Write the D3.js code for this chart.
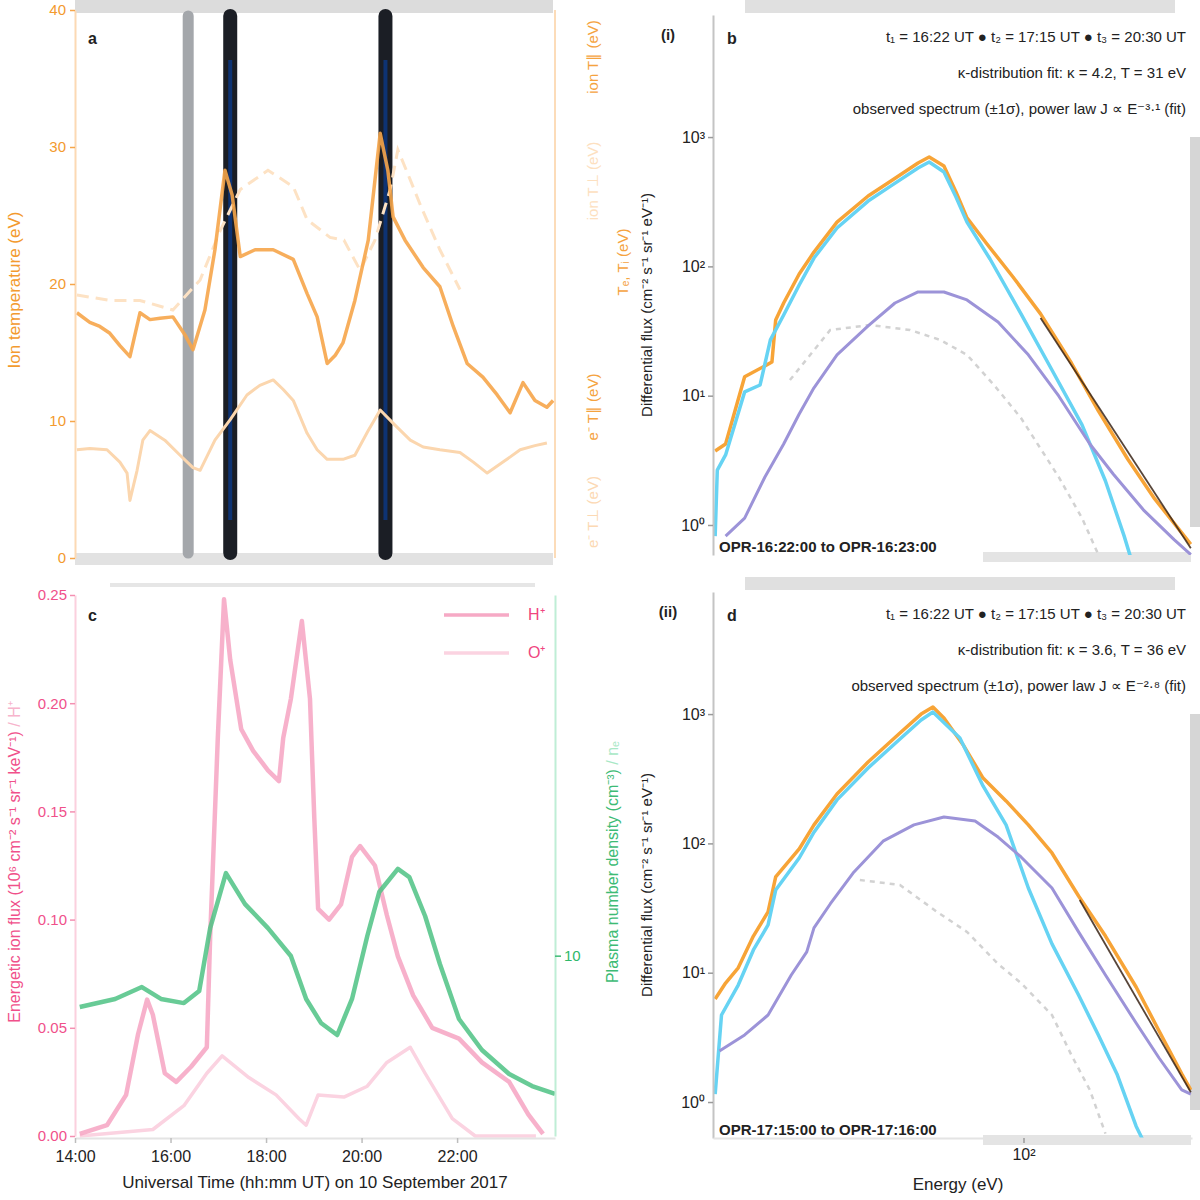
<!DOCTYPE html>
<html>
<head>
<meta charset="utf-8">
<script src="https://cdn.jsdelivr.net/npm/d3@7"></script>
<style>
body { margin: 0; background: #fff; }
</style>
</head>
<body>
<script>
// ---------- time axis (hours UT) ----------
var hourTicks = [14, 16, 18, 20, 22];
var hourLabels = ["14:00", "16:00", "18:00", "20:00", "22:00"];
var markerTimes = [16.37, 17.25, 20.5];
var markerColors = ["#a4a7ab", "#1b1e25", "#1b1e25"];

// ---------- panel a : temperatures ----------
var tempTicks = [0, 10, 20, 30, 40];
var tempIon = [[14.04,17.9],[14.31,17.2],[14.52,16.9],[14.73,16.4],[14.94,15.5],[15.15,14.7],[15.36,17.9],[15.57,17.4],
  [15.78,17.5],[16.05,17.6],[16.30,16.3],[16.47,15.2],[16.72,18.1],[16.93,22.5],[17.14,28.3],[17.29,26.5],[17.46,22.0],
  [17.77,22.5],[18.15,22.5],[18.57,21.8],[18.86,19.3],[19.07,17.6],[19.28,14.2],[19.45,14.8],[19.61,15.7],[19.86,18.8],
  [20.14,23.2],[20.39,31.0],[20.55,28.3],[20.66,24.9],[20.91,23.2],[21.29,21.2],[21.64,19.8],[21.92,16.9],[22.21,14.2],
  [22.54,13.2],[22.84,11.9],[23.11,10.6],[23.38,12.8],[23.63,11.5],[23.88,11.0],[24.01,11.5]];
var tempElec = [[14.04,7.9],[14.31,8.0],[14.67,7.9],[14.94,7.0],[15.09,6.2],[15.15,4.2],[15.30,6.4],[15.42,8.6],[15.57,9.3],
  [15.88,8.6],[16.20,7.5],[16.47,6.6],[16.62,6.4],[16.93,8.6],[17.25,10.1],[17.60,11.9],[17.87,12.6],[18.15,13.0],
  [18.36,12.3],[18.57,11.5],[18.86,9.1],[19.07,7.9],[19.28,7.2],[19.61,7.2],[19.86,7.5],[20.14,9.3],[20.39,10.8],
  [20.70,9.7],[21.02,8.6],[21.29,8.1],[21.64,7.9],[22.06,7.7],[22.34,7.0],[22.63,6.2],[22.96,7.0],[23.32,7.9],
  [23.63,8.2],[23.88,8.4]];
var tempPerp = [[14.04,19.2],[14.73,18.8],[15.36,18.8],[16.05,18.1],[16.62,20.3],[17.04,23.9],[17.46,26.9],[18.04,28.3],
  [18.57,27.1],[18.86,24.7],[19.34,23.4],[19.63,23.2],[19.97,21.0],[20.28,23.2],[20.60,26.9],[20.76,29.8],[21.02,27.6],
  [21.25,25.6],[21.64,22.5],[22.06,19.6]];

// ---------- panel c : fluxes and density ----------
var fluxTicks = [0, 0.05, 0.10, 0.15, 0.20, 0.25];
var densTicks = [10];
var fluxHigh = [[14.10,0.001],[14.67,0.005],[15.07,0.019],[15.32,0.047],[15.51,0.063],[15.63,0.056],[15.88,0.029],
  [16.12,0.025],[16.43,0.032],[16.76,0.041],[16.83,0.092],[16.99,0.184],[17.12,0.248],[17.25,0.220],[17.48,0.188],
  [17.73,0.178],[18.04,0.169],[18.27,0.164],[18.36,0.184],[18.52,0.202],[18.75,0.238],[18.92,0.202],[19.01,0.147],
  [19.09,0.105],[19.32,0.100],[19.57,0.107],[19.80,0.129],[19.97,0.134],[20.28,0.125],[20.53,0.102],[20.76,0.083],
  [21.08,0.065],[21.48,0.050],[22.04,0.045],[22.52,0.034],[23.09,0.025],[23.49,0.010],[23.80,0.001]];
var fluxLow = [[14.10,0.000],[15.63,0.003],[16.28,0.014],[16.76,0.029],[17.08,0.037],[17.64,0.027],[18.21,0.019],
  [18.69,0.008],[18.84,0.005],[19.09,0.019],[19.63,0.018],[20.12,0.023],[20.53,0.034],[21.02,0.041],[21.33,0.029],
  [21.90,0.008],[22.38,0.000],[23.65,0.000]];
var density = [[14.10,7.15],[14.84,7.60],[15.40,8.26],[15.80,7.60],[16.28,7.37],[16.60,8.04],[16.83,11.53],[17.16,14.58],
  [17.56,12.86],[18.04,11.53],[18.52,9.98],[18.84,7.60],[19.15,6.27],[19.49,5.60],[19.80,7.60],[20.12,11.09],
  [20.37,13.53],[20.76,14.81],[21.00,14.36],[21.33,12.20],[21.64,9.54],[22.04,6.49],[22.52,4.77],[23.09,3.44],
  [23.57,2.77],[24.05,2.33]];
var fluxLegend = ["H⁺", "O⁺"];

// ---------- panels b, d : energy spectra ----------
var energyTicks = [100];
var psdTicks = [1, 10, 100, 1000];
var obsB = [[15.2,3.73],[16.2,4.23],[18.2,14.0],[20.6,17.0],[21.5,18.2],[22.0,38.5],[23.1,52.1],[25.4,87.3],[27.8,129],
  [32.0,220],[38.7,350],[44.5,457],[52.5,631],[56.2,702],[61.5,598],[66.2,376],[70.8,237],[80.0,149],[93.8,82.8],
  [111,42.9],[134,17.9],[158,7.62],[189,3.24],[223,1.59],[263,0.87],[278,0.71]];
var kappaB = [[15.2,0.82],[15.4,2.66],[16.2,3.48],[18.2,10.7],[20.0,12.1],[21.3,27.0],[23.1,42.1],[25.4,71.8],[27.8,116],
  [32.0,198],[38.7,320],[44.5,419],[52.5,577],[56.2,642],[61.5,537],[66.2,344],[70.8,220],[81.5,114],[98.5,42.9],
  [119,15.8],[143,5.94],[165,2.19],[185,0.82],[194,0.52]];
var maxwB = [[16.2,0.82],[18.2,1.13],[20.6,2.35],[23.1,4.23],[25.4,7.21],[27.8,11.5],[32.0,20.7],[38.7,34.6],[45.6,52.1],
  [52.5,63.4],[61.5,63.4],[70.8,55.0],[85.6,37.2],[103,20.7],[124,9.95],[150,4.23],[173,2.48],[208,1.31],[251,0.77],
  [278,0.59]];
var refB = [[24.0,13.2],[30.7,32.2],[39.1,35.2],[50.0,32.2],[60.1,27.0],[70.8,20.7],[83.5,12.1],[98.5,6.72],[124,2.35],
  [143,1.13],[158,0.59]];
var powB = [[111,39.9],[278,0.66]];

var obsD = [[15.2,6.26],[16.2,8.32],[17.5,10.9],[19.2,19.2],[21.0,29.5],[22.0,55.0],[25.4,90.5],[27.8,139],[32.0,241],
  [38.7,426],[46.7,702],[53.5,1000],[57.5,1135],[61.5,933],[69.5,566],[78.1,320],[89.9,213],[103,139],[119,84.3],
  [140,39.2],[165,19.2],[199,7.75],[229,3.54],[263,1.65],[278,1.24]];
var kappaD = [[15.2,1.15],[15.8,4.71],[17.5,8.03],[19.2,15.0],[21.0,23.4],[22.0,43.6],[25.4,77.1],[27.8,122],[32.0,217],
  [38.7,383],[46.7,631],[53.5,900],[57.5,1038],[67.8,653],[78.1,278],[89.9,139],[103,45.2],[119,16.7],[140,6.72],
  [158,3.30],[177,1.65],[199,0.65],[208,0.50]];
var maxwD = [[15.6,2.48],[18.2,3.30],[21.0,4.71],[24.2,9.60],[26.6,14.5],[27.8,22.2],[30.7,34.0],[35.3,59.0],[42.4,104],
  [51.2,139],[61.5,160],[74.4,149],[85.6,112],[98.5,78.5],[119,45.2],[140,20.7],[165,9.60],[199,4.08],[229,2.19],
  [263,1.24],[278,1.15]];
var refD = [[36.8,52.1],[47.0,47.7],[59.0,29.5],[70.8,20.7],[85.6,11.7],[98.5,8.32],[119,4.71],[134,2.31],[150,1.24],
  [165,0.57]];
var powD = [[141,36.5],[278,1.19]];

var legendB = ["t₁ = 16:22 UT ●  t₂ = 17:15 UT ●  t₃ = 20:30 UT", "κ-distribution fit: κ = 4.2, T = 31 eV",
  "observed spectrum (±1σ), power law J ∝ E⁻³·¹ (fit)"];
var legendD = ["t₁ = 16:22 UT ●  t₂ = 17:15 UT ●  t₃ = 20:30 UT", "κ-distribution fit: κ = 3.6, T = 36 eV",
  "observed spectrum (±1σ), power law J ∝ E⁻²·⁸ (fit)"];
var intervalB = "OPR-16:22:00 to OPR-16:23:00";
var intervalD = "OPR-17:15:00 to OPR-17:16:00";

var FONT = '"Liberation Sans", Arial, sans-serif';
var SUP = {"0": "⁰", "1": "¹", "2": "²", "3": "³", "4": "⁴"};

function initialize() {
	var svg = d3.select("body").append("svg")
		.attr("width", 1200)
		.attr("height", 1200)
		.style("font-family", FONT);

	var defs = svg.append("defs");
	function clip(id, x, y, w, h) {
		defs.append("clipPath").attr("id", id)
			.append("rect").attr("x", x).attr("y", y).attr("width", w).attr("height", h);
	}
	clip("clipA", 75, 10, 480, 548);
	clip("clipC", 75, 590, 480, 548);
	clip("clipB", 713, 15, 479, 540);
	clip("clipD", 713, 592, 479, 546);

	var xT = d3.scaleLinear().domain([14, 24.05]).range([75, 555]);

	drawPanelA(svg, xT);
	drawPanelC(svg, xT);
	drawSpectra(svg, "clipB", 15, 555, [0.586, 8790], obsB, kappaB, maxwB, refB, powB, legendB, intervalB, "b", "(i)", false);
	drawSpectra(svg, "clipD", 592, 1138, [0.527, 8790], obsD, kappaD, maxwD, refD, powD, legendD, intervalD, "d", "(ii)", true);
} // initialize()

function styleAxis(g, domainColor, tickColor, textColor, size) {
	g.select(".domain").attr("stroke", domainColor).attr("stroke-width", 2);
	g.selectAll(".tick line").attr("stroke", tickColor).attr("stroke-width", 1.5);
	g.selectAll(".tick text").attr("fill", textColor)
		.style("font-size", size + "px").style("font-family", FONT);
}

function rotLabel(svg, x, y, parts, size) {
	var t = svg.append("text")
		.attr("transform", "translate(" + x + "," + y + ") rotate(-90)")
		.attr("text-anchor", "middle")
		.style("font-size", size + "px");
	parts.forEach(function(p) {
		t.append("tspan").attr("fill", p[1]).text(p[0]);
	});
	return t;
}

function drawPanelA(svg, xT) {
	var yA = d3.scaleLinear().domain([0, 40]).range([558, 10]);

	// light grey frame bands (top and bottom)
	svg.append("rect").attr("x", 75).attr("y", 0).attr("width", 478).attr("height", 13).attr("fill", "#dcdcdc");
	svg.append("rect").attr("x", 75).attr("y", 553).attr("width", 478).attr("height", 12).attr("fill", "#e2e2e2");

	// time markers of the spectra
	svg.selectAll(".marker").data(markerTimes).enter()
		.append("line")
		.attr("x1", function(d) { return xT(d); })
		.attr("x2", function(d) { return xT(d); })
		.attr("y1", 16).attr("y2", 553)
		.attr("stroke", function(d, i) { return markerColors[i]; })
		.attr("stroke-width", function(d, i) { return i === 0 ? 11 : 14; })
		.attr("stroke-linecap", "round");
	svg.selectAll(".markerCore").data(markerTimes.slice(1)).enter()
		.append("line")
		.attr("x1", function(d) { return xT(d); })
		.attr("x2", function(d) { return xT(d); })
		.attr("y1", 60).attr("y2", 520)
		.attr("stroke", "#0a3a8e").attr("stroke-width", 4).attr("opacity", 0.75);

	var line = d3.line().x(function(d) { return xT(d[0]); }).y(function(d) { return yA(d[1]); });
	var g = svg.append("g").attr("clip-path", "url(#clipA)");
	g.append("path").attr("d", line(tempPerp)).attr("fill", "none")
		.attr("stroke", "#fde2c4").attr("stroke-width", 3).attr("stroke-dasharray", "12,7");
	g.append("path").attr("d", line(tempElec)).attr("fill", "none")
		.attr("stroke", "#fbd6ae").attr("stroke-width", 3).attr("stroke-linejoin", "round");
	g.append("path").attr("d", line(tempIon)).attr("fill", "none")
		.attr("stroke", "#f6a54a").attr("stroke-width", 3.5).attr("stroke-linejoin", "round").attr("opacity", 0.9);

	var axL = svg.append("g").attr("transform", "translate(75,0)")
		.call(d3.axisLeft(yA).tickValues(tempTicks).tickSize(5).tickSizeOuter(0).tickPadding(4));
	styleAxis(axL, "#fcd9b4", "#f6a64a", "#f39a2e", 15);

	svg.append("line").attr("x1", 555).attr("x2", 555).attr("y1", 10).attr("y2", 558)
		.attr("stroke", "#fcdcb9").attr("stroke-width", 2);

	rotLabel(svg, 20, 290, [["Ion temperature (eV)", "#f39a2e"]], 17);
	rotLabel(svg, 598, 57, [["ion T∥ (eV)", "#f5a33f"]], 15);
	rotLabel(svg, 598, 181, [["ion T⊥ (eV)", "#fde0c0"]], 15);
	rotLabel(svg, 628, 262, [["Tₑ, Tᵢ (eV)", "#f5a33f"]], 15);
	rotLabel(svg, 598, 407, [["e⁻ T∥ (eV)", "#f5a33f"]], 15);
	rotLabel(svg, 598, 512, [["e⁻ T⊥ (eV)", "#fcd9b4"]], 15);

	svg.append("text").attr("x", 88).attr("y", 44).attr("font-weight", "bold")
		.style("font-size", "16px").attr("fill", "#222").text("a");
} // drawPanelA()

function drawPanelC(svg, xT) {
	var yP = d3.scaleLinear().domain([0, 0.25]).range([1136, 595]);
	var yG = d3.scaleLinear().domain([0, 30]).range([1136, 595]);

	svg.append("rect").attr("x", 110).attr("y", 583).attr("width", 425).attr("height", 4).attr("fill", "#e6e6e6");

	var lineP = d3.line().x(function(d) { return xT(d[0]); }).y(function(d) { return yP(d[1]); });
	var lineG = d3.line().x(function(d) { return xT(d[0]); }).y(function(d) { return yG(d[1]); });
	var g = svg.append("g").attr("clip-path", "url(#clipC)");
	g.append("path").attr("d", lineP(fluxLow)).attr("fill", "none")
		.attr("stroke", "#fbd3e1").attr("stroke-width", 3.5).attr("stroke-linejoin", "round");
	g.append("path").attr("d", lineP(fluxHigh)).attr("fill", "none")
		.attr("stroke", "#f6a9c5").attr("stroke-width", 4.5).attr("stroke-linejoin", "round").attr("opacity", 0.9);
	g.append("path").attr("d", lineG(density)).attr("fill", "none")
		.attr("stroke", "#4dc284").attr("stroke-width", 4.5).attr("stroke-linejoin", "round").attr("opacity", 0.85);

	var axL = svg.append("g").attr("transform", "translate(75,0)")
		.call(d3.axisLeft(yP).tickValues(fluxTicks).tickSize(5).tickSizeOuter(0).tickFormat(d3.format(".2f")));
	styleAxis(axL, "#fbd0de", "#f48fb1", "#f0508a", 15);

	var axR = svg.append("g").attr("transform", "translate(555,0)")
		.call(d3.axisRight(yG).tickValues(densTicks).tickSize(6).tickSizeOuter(0));
	styleAxis(axR, "#bfeed6", "#3dbb75", "#2fb86a", 15);

	var axB = svg.append("g").attr("transform", "translate(0,1138)")
		.call(d3.axisBottom(xT).tickValues(hourTicks).tickSize(5).tickSizeOuter(0).tickPadding(8)
			.tickFormat(function(d, i) { return hourLabels[i]; }));
	styleAxis(axB, "#e4e4e4", "#bdbdbd", "#222", 16);

	svg.append("text").attr("x", 315).attr("y", 1188).attr("text-anchor", "middle")
		.style("font-size", "17px").attr("fill", "#222")
		.text("Universal Time (hh:mm UT) on 10 September 2017");

	// legend
	var lg = svg.selectAll(".lgC").data(fluxLegend).enter().append("g");
	lg.append("line")
		.attr("x1", 444).attr("x2", 509)
		.attr("y1", function(d, i) { return 615 + i * 38; })
		.attr("y2", function(d, i) { return 615 + i * 38; })
		.attr("stroke", function(d, i) { return i === 0 ? "#f6a9c5" : "#fbd3e1"; })
		.attr("stroke-width", 3.5);
	lg.append("text")
		.attr("x", 528).attr("y", function(d, i) { return 620 + i * 38; })
		.style("font-size", "16px").attr("fill", "#f0457f")
		.text(function(d) { return d; });

	rotLabel(svg, 20, 862, [["Energetic ion flux (10⁶ cm⁻² s⁻¹ sr⁻¹ keV⁻¹) ", "#f0508a"], ["/ H⁺", "#f7b4cc"]], 16);
	rotLabel(svg, 618, 862, [["Plasma number density (cm⁻³) ", "#3dbb75"], ["/ nₑ", "#a8e8c6"]], 16);

	svg.append("text").attr("x", 88).attr("y", 621).attr("font-weight", "bold")
		.style("font-size", "16px").attr("fill", "#222").text("c");
} // drawPanelC()

function drawSpectra(svg, clipId, top, bottom, yDomain, obs, kappa, maxw, ref, pow, legend, interval, letter, tag, showX) {
	var xE = d3.scaleLog().domain([15, 280]).range([713, 1192]);
	var yS = d3.scaleLog().domain(yDomain).range([bottom, top]);

	// grey frame bands
	svg.append("rect").attr("x", 745).attr("y", top - 15).attr("width", 430).attr("height", 13).attr("fill", "#e0e0e0");
	svg.append("rect").attr("x", 983).attr("y", bottom - 3).attr("width", 208).attr("height", 10).attr("fill", "#e4e4e4");
	svg.append("rect").attr("x", 1190).attr("y", top + 122).attr("width", 10).attr("height", bottom - top - 150).attr("fill", "#d6d6d6");

	var line = d3.line().x(function(d) { return xE(d[0]); }).y(function(d) { return yS(d[1]); });
	var g = svg.append("g").attr("clip-path", "url(#" + clipId + ")");
	g.append("path").attr("d", line(ref)).attr("fill", "none")
		.attr("stroke", "#d2d2d2").attr("stroke-width", 2.5).attr("stroke-dasharray", "5,5");
	g.append("path").attr("d", line(obs)).attr("fill", "none")
		.attr("stroke", "#f7a437").attr("stroke-width", 3.5).attr("stroke-linejoin", "round");
	g.append("path").attr("d", line(kappa)).attr("fill", "none")
		.attr("stroke", "#66d3f3").attr("stroke-width", 3.5).attr("stroke-linejoin", "round");
	g.append("path").attr("d", line(maxw)).attr("fill", "none")
		.attr("stroke", "#9c93d8").attr("stroke-width", 3).attr("stroke-linejoin", "round");
	g.append("path").attr("d", line(pow)).attr("fill", "none")
		.attr("stroke", "#3a2416").attr("stroke-width", 1.8).attr("opacity", 0.85);

	var axL = svg.append("g").attr("transform", "translate(713,0)")
		.call(d3.axisLeft(yS).tickValues(psdTicks).tickSize(5).tickSizeOuter(0)
			.tickFormat(function(d) { return "10" + SUP[String(Math.round(Math.log10(d)))]; }));
	styleAxis(axL, "#c4c4c4", "#9a9a9a", "#222", 16);

	rotLabel(svg, 652, (top + bottom) / 2 + 20, [["Differential flux (cm⁻² s⁻¹ sr⁻¹ eV⁻¹)", "#222"]], 15);

	svg.selectAll(".lg" + letter).data(legend).enter().append("text")
		.attr("x", 1186).attr("y", function(d, i) { return top + 27 + i * 36; })
		.attr("text-anchor", "end").style("font-size", "15px").attr("fill", "#222")
		.text(function(d) { return d; });

	svg.append("text").attr("x", 719).attr("y", bottom - 3).attr("font-weight", "bold")
		.style("font-size", "15px").attr("fill", "#222").text(interval);

	svg.append("text").attr("x", 727).attr("y", top + 29).attr("font-weight", "bold")
		.style("font-size", "16px").attr("fill", "#222").text(letter);
	svg.append("text").attr("x", 668).attr("y", top + 25).attr("text-anchor", "middle").attr("font-weight", "bold")
		.style("font-size", "15px").attr("fill", "#222").text(tag);

	if (showX) {
		var axB = svg.append("g").attr("transform", "translate(0," + bottom + ")")
			.call(d3.axisBottom(xE).tickValues(energyTicks).tickSize(5).tickSizeOuter(0).tickPadding(6)
				.tickFormat(function() { return "10²"; }));
		styleAxis(axB, "#e4e4e4", "#9a9a9a", "#222", 16);
		svg.append("text").attr("x", 958).attr("y", 1190).attr("text-anchor", "middle")
			.style("font-size", "17px").attr("fill", "#222").text("Energy (eV)");
	}
} // drawSpectra()

initialize();
</script>
</body>
</html>
